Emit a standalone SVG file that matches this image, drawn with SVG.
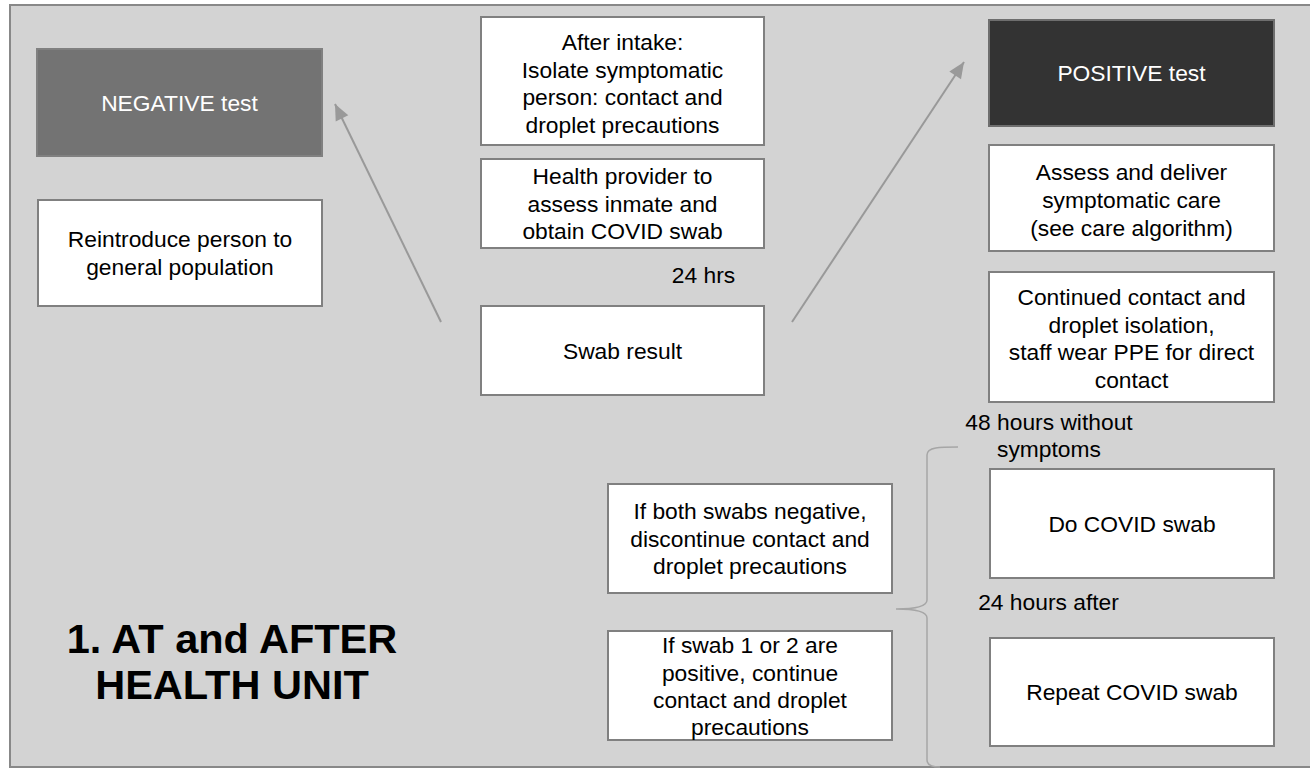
<svg xmlns="http://www.w3.org/2000/svg" width="1310" height="769" viewBox="0 0 1310 769">
<defs>
<style>
.box{fill:#ffffff;stroke:#808080;stroke-width:2}
.neg{fill:#737373;stroke:#808080;stroke-width:2}
.pos{fill:#333333;stroke:#6e6e6e;stroke-width:2}
.t{font-family:"Liberation Sans",Arial,sans-serif;font-size:22.8px;fill:#000;text-anchor:middle}
.w{fill:#ffffff}
.title{font-family:"Liberation Sans",Arial,sans-serif;font-size:41.5px;font-weight:bold;fill:#000;text-anchor:middle}
.conn{fill:none;stroke:#999999;stroke-width:2}
.brace{fill:none;stroke:#a6a6a6;stroke-width:1.5}
</style>
<marker id="ah" markerUnits="userSpaceOnUse" markerWidth="20" markerHeight="20" viewBox="0 0 20 20" refX="18" refY="10" orient="auto">
<path d="M2,3 L18,10 L2,17 Z" fill="#999999"/>
</marker>
</defs>
<rect x="10" y="5" width="1310" height="762" fill="#d3d3d3" stroke="#888888" stroke-width="2"/>
<g id="connectors">
<line class="conn" x1="441" y1="322" x2="335" y2="104" marker-end="url(#ah)"/>
<line class="conn" x1="792" y1="322" x2="964" y2="62" marker-end="url(#ah)"/>
<path class="brace" d="M958,447 C940,447 927,447 927,455 L927,600 C927,606 915,609 896,609 C915,609 927,612 927,618 L927,760 C927,765 932,767 940,767"/>
</g>
<g id="negative">
<rect class="neg" x="37" y="49" width="285" height="107"/>
<text class="t w" x="179.5" y="111">NEGATIVE test</text>
</g>
<g id="reintroduce">
<rect class="box" x="38" y="200" width="284" height="106"/>
<text class="t" x="180" y="247">Reintroduce person to</text>
<text class="t" x="180" y="275">general population</text>
</g>
<g id="intake">
<rect class="box" x="481" y="17" width="283" height="128"/>
<text class="t" x="622.5" y="50">After intake:</text>
<text class="t" x="622.5" y="78">Isolate symptomatic</text>
<text class="t" x="622.5" y="105">person: contact and</text>
<text class="t" x="622.5" y="133">droplet precautions</text>
</g>
<g id="provider">
<rect class="box" x="481" y="159" width="283" height="89"/>
<text class="t" x="622.5" y="184">Health provider to</text>
<text class="t" x="622.5" y="211.5">assess inmate and</text>
<text class="t" x="622.5" y="239">obtain COVID swab</text>
</g>
<g id="hrs24">
<text class="t" x="703.5" y="283">24 hrs</text>
</g>
<g id="swabresult">
<rect class="box" x="481" y="306" width="283" height="89"/>
<text class="t" x="622.5" y="359">Swab result</text>
</g>
<g id="positive">
<rect class="pos" x="989" y="20" width="285" height="106"/>
<text class="t w" x="1131.5" y="81">POSITIVE test</text>
</g>
<g id="assess">
<rect class="box" x="989" y="145" width="285" height="106"/>
<text class="t" x="1131.5" y="180">Assess and deliver</text>
<text class="t" x="1131.5" y="208">symptomatic care</text>
<text class="t" x="1131.5" y="236">(see care algorithm)</text>
</g>
<g id="continued">
<rect class="box" x="989" y="272" width="285" height="130"/>
<text class="t" x="1131.5" y="305">Continued contact and</text>
<text class="t" x="1131.5" y="333">droplet isolation,</text>
<text class="t" x="1131.5" y="360">staff wear PPE for direct</text>
<text class="t" x="1131.5" y="388">contact</text>
</g>
<g id="hours48">
<text class="t" x="1049" y="430">48 hours without</text>
<text class="t" x="1049" y="457">symptoms</text>
</g>
<g id="doswab">
<rect class="box" x="990" y="469" width="284" height="109"/>
<text class="t" x="1132" y="531.5">Do COVID swab</text>
</g>
<g id="hours24after">
<text class="t" x="1048.5" y="610">24 hours after</text>
</g>
<g id="repeatswab">
<rect class="box" x="990" y="638" width="284" height="108"/>
<text class="t" x="1132" y="700">Repeat COVID swab</text>
</g>
<g id="bothneg">
<rect class="box" x="608" y="484" width="284" height="109"/>
<text class="t" x="750" y="519">If both swabs negative,</text>
<text class="t" x="750" y="546.5">discontinue contact and</text>
<text class="t" x="750" y="574">droplet precautions</text>
</g>
<g id="swabpos">
<rect class="box" x="608" y="631" width="284" height="109"/>
<text class="t" x="750" y="653">If swab 1 or 2 are</text>
<text class="t" x="750" y="681">positive, continue</text>
<text class="t" x="750" y="708">contact and droplet</text>
<text class="t" x="750" y="735">precautions</text>
</g>
<g id="title">
<text class="title" x="232" y="653">1. AT and AFTER</text>
<text class="title" x="232" y="699">HEALTH UNIT</text>
</g>
</svg>
